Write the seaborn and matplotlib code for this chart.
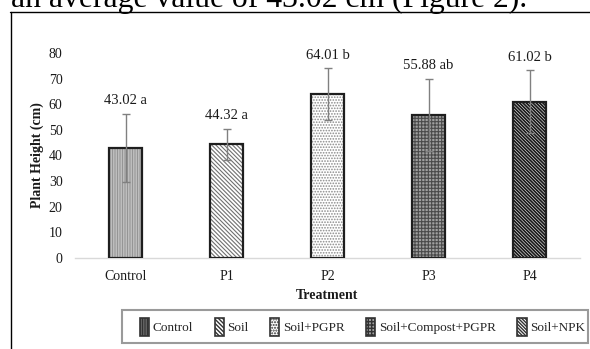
import matplotlib
matplotlib.use("Agg")
import matplotlib.pyplot as plt
import seaborn as sns
import pandas as pd
from matplotlib.patches import Patch, Rectangle
from matplotlib.lines import Line2D

# ---- data ----
treatments = ["Control", "P1", "P2", "P3", "P4"]
heights = [43.02, 44.32, 64.01, 55.88, 61.02]
errors = [13.2, 6.0, 10.0, 14.0, 12.2]
letters = ["a", "a", "b", "ab", "b"]
legend_labels = ["Control", "Soil", "Soil+PGPR", "Soil+Compost+PGPR", "Soil+NPK"]
y_ticks = [0, 10, 20, 30, 40, 50, 60, 70, 80]
caption = "an average value of 43.02 cm (Figure 2)."

# ---- styles ----
faces = ["#dedede", "#ffffff", "#ffffff", "#a0a0a0", "#ffffff"]
hatches = ["|" * 10, "\\" * 8, "." * 6, "+" * 5, "\\" * 10]
hatch_cols = ["#959595", "#707070", "#8a8a8a", "#4a4a4a", "#1a1a1a"]
hatch_lw = [0.8, 0.8, 0.8, 0.8, 1.3]

sns.set_theme(style="white")
plt.rcParams["font.family"] = ["Liberation Serif", "DejaVu Serif"]

W, H = 590, 349
fig = plt.figure(figsize=(W / 100, H / 100), dpi=100)

def fx(px):
    return px / W

def fy(py):
    return 1 - py / H

ax = fig.add_axes([fx(75), fy(258), fx(580) - fx(75), fy(53) - fy(258)])

df = pd.DataFrame({"Treatment": treatments, "Height": heights})
sns.barplot(data=df, x="Treatment", y="Height", ax=ax, width=0.33,
            errorbar=None, color="white")

centers = []
for i, p in enumerate(ax.patches[:len(treatments)]):
    p.set_facecolor(faces[i])
    p.set_hatch(hatches[i])
    p.set_edgecolor(hatch_cols[i])
    p.set_linewidth(0)
    if hasattr(p, "set_hatch_linewidth"):
        p.set_hatch_linewidth(hatch_lw[i])
    x0, y0 = p.get_x(), p.get_y()
    w, h = p.get_width(), p.get_height()
    ax.add_patch(Rectangle((x0, y0), w, h, facecolor="none",
                           edgecolor="#1e1e1e", linewidth=1.6, zorder=3))
    centers.append(x0 + w / 2)

ax.errorbar(centers, heights, yerr=errors, fmt="none", ecolor="#808080",
            elinewidth=1.0, capsize=3, capthick=1.0, zorder=4)

for c, v, e, l in zip(centers, heights, errors, letters):
    ax.annotate(f"{v:.2f} {l}", xy=(c, v + e), xytext=(0, 7),
                textcoords="offset points", ha="center", va="baseline",
                fontsize=10.5, color="#1a1a1a")

ax.set_ylim(0, 80)
ax.set_xlim(-0.5, len(treatments) - 0.5)
ax.set_yticks(y_ticks)
ax.set_yticklabels([str(t) for t in y_ticks])
ax.tick_params(axis="both", length=0, labelsize=10, colors="#1a1a1a")
ax.tick_params(axis="x", pad=9)
ax.tick_params(axis="y", pad=9)
for s in ["top", "right", "left"]:
    ax.spines[s].set_visible(False)
ax.spines["bottom"].set_color("#d9d9d9")
ax.spines["bottom"].set_linewidth(1.0)
ax.set_xlabel("Treatment", fontsize=10, fontweight="bold", color="#1a1a1a",
              labelpad=4)
ax.set_ylabel("Plant Height (cm)", fontsize=10, fontweight="bold",
              color="#1a1a1a", labelpad=3)

# legend
handles = [Patch(facecolor=faces[i], hatch=hatches[i], edgecolor="#333333",
                 linewidth=1.2) for i in range(len(legend_labels))]
fig.add_artist(Rectangle((fx(122), fy(343)), fx(588) - fx(122), fy(310) - fy(343),
                         transform=fig.transFigure, facecolor="white",
                         edgecolor="#9a9a9a", linewidth=1.5))
fig.legend(handles, legend_labels, loc="center left",
           bbox_to_anchor=(fx(140), fy(327)), ncol=5, frameon=False,
           fontsize=9.5, handlelength=0.7, handleheight=1.7,
           handletextpad=0.25, columnspacing=1.65, borderpad=0,
           borderaxespad=0)

# page frame
fig.add_artist(Line2D([fx(10.5), fx(10.5)], [fy(12), 0], transform=fig.transFigure,
                      color="black", linewidth=1.0))
fig.add_artist(Line2D([fx(10), 1], [fy(12), fy(12)], transform=fig.transFigure,
                      color="black", linewidth=1.0))

# caption text of the page, clipped at top as in the reference page crop
t = fig.text(fx(11), fy(6.5), caption, fontsize=20, va="baseline", ha="left",
             color="black")
fig.canvas.draw()
bb = t.get_window_extent()
t.set_fontsize(20 * (528 - 11) / bb.width)

fig.savefig("out.png", dpi=100)
